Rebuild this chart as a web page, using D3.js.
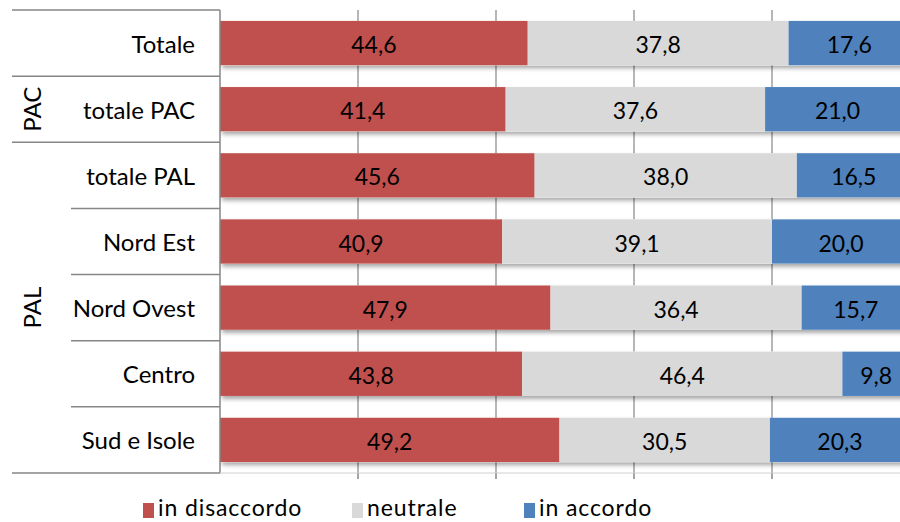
<!DOCTYPE html>
<html>
<head>
<meta charset="utf-8">
<script src="https://cdn.jsdelivr.net/npm/d3@7/dist/d3.min.js"></script>
<style>
  html, body { margin: 0; padding: 0; background: #fff; }
  svg { display: block; }
  text { font-family: Lato, "Open Sans", sans-serif; fill: #000; }
</style>
</head>
<body>
<svg id="chart" width="900" height="522"></svg>
<script>
// Categories (top to bottom) and their group
const categories = ["Totale", "totale PAC", "totale PAL", "Nord Est", "Nord Ovest", "Centro", "Sud e Isole"];
const groups = [
  { name: "PAC", from: "totale PAC", to: "totale PAC" },
  { name: "PAL", from: "totale PAL", to: "Sud e Isole" }
];

// Series values (%)
const disaccordo = [44.6, 41.4, 45.6, 40.9, 47.9, 43.8, 49.2];
const neutrale   = [37.8, 37.6, 38.0, 39.1, 36.4, 46.4, 30.5];
const accordo    = [17.6, 21.0, 16.5, 20.0, 15.7,  9.8, 20.3];

const seriesNames = ["in disaccordo", "neutrale", "in accordo"];
const seriesColors = ["#C0504D", "#D9D9D9", "#4F81BD"];
const xTicks = [0, 20, 40, 60, 80, 100];

const svg = d3.select("#chart");
const plotLeft = 220, plotTop = 10, plotBottom = 473;
const x = d3.scaleLinear().domain([0, 100]).range([plotLeft, plotLeft + 690]);
const y = d3.scaleBand().domain(categories).range([plotTop, plotBottom]).paddingInner(0.33).paddingOuter(0.165);

// drop shadow for bars
const defs = svg.append("defs");
const f = defs.append("filter").attr("id", "shadow").attr("x", "-5%").attr("y", "-20%").attr("width", "110%").attr("height", "160%");
f.append("feDropShadow").attr("dx", 2).attr("dy", 3).attr("stdDeviation", 2)
  .attr("flood-color", "#000").attr("flood-opacity", 0.35);

// gridlines
svg.append("g").selectAll("line").data(xTicks.slice(1)).join("line")
  .attr("x1", d => x(d)).attr("x2", d => x(d))
  .attr("y1", plotTop).attr("y2", plotBottom + 1)
  .attr("stroke", "#868686").attr("stroke-width", 1.2);

// stacked data
const rows = categories.map((c, i) => ({ cat: c, vals: [disaccordo[i], neutrale[i], accordo[i]] }));
const stack = d3.stack().keys([0, 1, 2]).value((d, k) => d.vals[k]);
const layers = stack(rows);

const barG = svg.append("g");
// shadows first (one per row) so segments meet cleanly
barG.selectAll("rect.sh").data(rows).join("rect").attr("class", "sh")
  .attr("x", x(0)).attr("y", d => y(d.cat))
  .attr("width", d => x(d3.sum(d.vals)) - x(0)).attr("height", y.bandwidth())
  .attr("fill", "#fff").attr("filter", "url(#shadow)");

layers.forEach((layer, k) => {
  barG.append("g").selectAll("rect").data(layer).join("rect")
    .attr("x", d => x(d[0])).attr("y", d => y(d.data.cat))
    .attr("width", d => x(d[1]) - x(d[0])).attr("height", y.bandwidth())
    .attr("fill", seriesColors[k]);
  barG.append("g").selectAll("text").data(layer).join("text")
    .attr("x", d => (x(d[0]) + x(d[1])) / 2)
    .attr("y", d => y(d.data.cat) + y.bandwidth() / 2 + 1)
    .attr("text-anchor", "middle").attr("dominant-baseline", "central")
    .style("font-size", "23px")
    .text(d => d3.format(".1f")(d[1] - d[0]).replace(".", ","));
});

// vertical axis line and category separators
const axisG = svg.append("g").attr("stroke", "#868686").attr("stroke-width", 1.5);
axisG.append("line").attr("x1", plotLeft).attr("x2", plotLeft).attr("y1", plotTop).attr("y2", plotBottom);
const step = y.step();
const edges = d3.range(categories.length + 1).map(i => plotTop + i * step);
edges.forEach((e, i) => {
  const cat = categories[i];
  // lines extend into the group column only at group borders
  const full = i === 0 || i === categories.length || cat === "totale PAC" || cat === "totale PAL";
  axisG.append("line").attr("x1", full ? 12 : 71).attr("x2", plotLeft).attr("y1", e).attr("y2", e);
});
// ticks below the plot
axisG.selectAll("line.t").data(xTicks.slice(1)).join("line").attr("class", "t")
  .attr("x1", d => x(d)).attr("x2", d => x(d)).attr("y1", plotBottom).attr("y2", plotBottom + 6);
axisG.append("line").attr("x1", plotLeft).attr("x2", 900).attr("y1", plotBottom).attr("y2", plotBottom)
  .attr("stroke", "#d0d0d0").attr("stroke-width", 1);

// category labels
svg.append("g").selectAll("text").data(categories).join("text")
  .attr("x", 195).attr("y", d => y(d) + y.bandwidth() / 2)
  .attr("text-anchor", "end").attr("dominant-baseline", "central")
  .style("font-size", "24px").text(d => d);

// group labels (rotated)
groups.forEach(g => {
  const y0 = y(g.from) - (step - y.bandwidth()) / 2;
  const y1 = y(g.to) + y.bandwidth() + (step - y.bandwidth()) / 2;
  const cy = (y0 + y1) / 2;
  svg.append("text").attr("transform", `translate(31,${cy}) rotate(-90)`)
    .attr("text-anchor", "middle").attr("dominant-baseline", "central")
    .style("font-size", "24px").text(g.name);
});

// legend
const legendX = [143, 352, 524];
const lg = svg.append("g");
seriesNames.forEach((n, i) => {
  lg.append("rect").attr("x", legendX[i]).attr("y", 503).attr("width", 11).attr("height", 15)
    .attr("fill", seriesColors[i]);
  lg.append("text").attr("x", legendX[i] + 15).attr("y", 516)
    .style("font-size", "23px").style("letter-spacing", "0.9px").text(n);
});
</script>
</body>
</html>
